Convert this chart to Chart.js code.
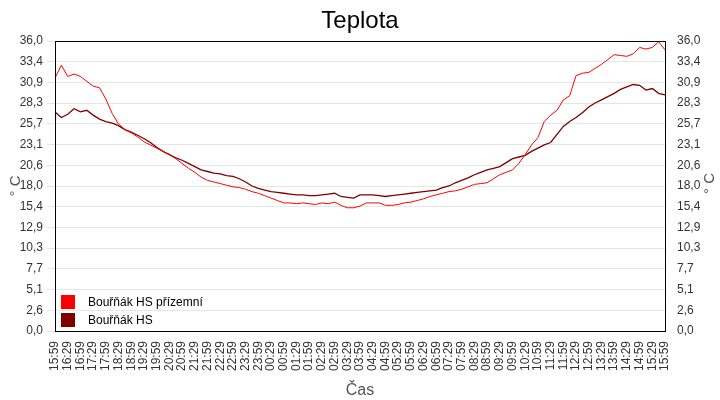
<!DOCTYPE html>
<html><head><meta charset="utf-8">
<script src="https://cdn.jsdelivr.net/npm/chart.js@4/dist/chart.umd.min.js"></script>
<style>
body{margin:0;background:#fff;font-family:"Liberation Sans",Arial,sans-serif}
#wrap{position:relative;width:720px;height:400px}
#title{position:absolute;left:0;width:720px;top:6px;text-align:center;font-size:24px;color:#000}
.leg{position:absolute;left:61px;font-size:12px;color:#000;line-height:14px}
.leg span{display:inline-block;width:14px;height:14px;vertical-align:top;margin-right:13px}
#rt{position:absolute;left:698px;top:175px;font-size:15px;color:#555;transform:rotate(-90deg);transform-origin:center}
</style></head><body>
<div id="wrap">
<canvas id="c" width="720" height="400"></canvas>
<div id="title">Teplota</div>
<div class="leg" style="top:295px"><span style="background:#ff0000"></span>Bouřňák HS přízemní</div>
<div class="leg" style="top:313px"><span style="background:#800000"></span>Bouřňák HS</div>
<div id="rt">° C</div>
</div>
<script>
const tickLabels=["15:59","16:29","16:59","17:29","17:59","18:29","18:59","19:29","19:59","20:29","20:59","21:29","21:59","22:29","22:59","23:29","23:59","00:29","00:59","01:29","01:59","02:29","02:59","03:29","03:59","04:29","04:59","05:29","05:59","06:29","06:59","07:29","07:59","08:29","08:59","09:29","09:59","10:29","10:59","11:29","11:59","12:29","12:59","13:29","13:59","14:29","14:59","15:29","15:59"];
const yTicks=[0,2.571,5.143,7.714,10.286,12.857,15.429,18,20.571,23.143,25.714,28.286,30.857,33.429,36];
const redName="Bouřňák HS přízemní";
const darkName="Bouřňák HS";
const redVals=[31.4,33.0,31.6,31.9,31.6,31.0,30.4,30.2,28.8,27.0,25.7,25.0,24.6,24.1,23.5,23.1,22.7,22.3,21.9,21.4,20.8,20.2,19.7,19.1,18.7,18.5,18.3,18.1,17.9,17.8,17.6,17.3,17.1,16.8,16.5,16.2,15.9,15.9,15.8,15.9,15.8,15.7,15.9,15.8,16.0,15.6,15.3,15.3,15.5,15.9,15.9,15.9,15.6,15.6,15.7,15.9,16.0,16.2,16.4,16.7,16.9,17.1,17.3,17.4,17.6,17.9,18.2,18.3,18.4,18.9,19.4,19.7,20.0,20.8,21.9,23.1,24.0,26.0,26.8,27.4,28.7,29.2,31.7,32.0,32.1,32.6,33.1,33.7,34.3,34.2,34.1,34.4,35.2,35.0,35.2,35.9,34.9];
const darkVals=[27.2,26.5,26.9,27.6,27.2,27.4,26.8,26.3,26.0,25.8,25.5,25.0,24.7,24.3,23.9,23.4,22.8,22.3,21.9,21.5,21.2,20.8,20.4,20.0,19.8,19.6,19.5,19.3,19.2,18.9,18.5,18.0,17.7,17.5,17.3,17.2,17.1,17.0,16.9,16.9,16.8,16.8,16.9,17.0,17.1,16.7,16.6,16.5,16.9,16.9,16.9,16.8,16.7,16.8,16.9,17.0,17.1,17.2,17.3,17.4,17.5,17.8,18.0,18.4,18.7,19.0,19.4,19.7,20.0,20.2,20.4,20.9,21.4,21.6,21.8,22.3,22.7,23.1,23.4,24.4,25.4,26.0,26.5,27.1,27.8,28.3,28.7,29.1,29.5,30.0,30.3,30.6,30.5,29.9,30.1,29.5,29.3];
const labels=redVals.map((v,i)=>i%2===0?tickLabels[i/2]:'');
const fmt=v=>v.toFixed(1).replace('.',',');
const tickFont={family:"Liberation Sans",size:12};
const border={id:'border',afterDraw(ch){const a=ch.chartArea,c=ch.ctx;c.save();c.strokeStyle='#000';c.lineWidth=1;c.strokeRect(Math.round(a.left)+0.5,Math.round(a.top)+0.5,Math.round(a.right-a.left),Math.round(a.bottom-a.top));c.restore();}};
const yCommon={min:0,max:36,afterBuildTicks(s){s.ticks=yTicks.map(v=>({value:v}));},
 ticks:{callback:v=>fmt(v),font:tickFont,color:'#333',padding:4},border:{display:false}};
new Chart(document.getElementById('c'),{type:'line',
data:{labels:labels,datasets:[
{label:redName,data:redVals,borderColor:'#ff0000',borderWidth:1,pointRadius:0,tension:0},
{label:darkName,data:darkVals,borderColor:'#800000',borderWidth:1.3,pointRadius:0,tension:0}]},
options:{responsive:false,animation:false,layout:{padding:{top:41}},
plugins:{legend:{display:false},tooltip:{enabled:false}},
scales:{
x:{offset:false,grid:{display:false},border:{display:false},
 ticks:{autoSkip:false,minRotation:90,maxRotation:90,font:tickFont,color:'#333',padding:2,callback:(v,i)=>labels[i]===''?null:labels[i]},
 title:{display:true,text:'Čas',font:{family:"Liberation Sans",size:16},color:'#555',padding:0},
 afterFit(s){s.height=69;}},
y:{position:'left',...yCommon,grid:{color:'#e6e6e6'},
 title:{display:true,text:'° C',font:{family:"Liberation Sans",size:15},color:'#555',padding:{top:7,bottom:0}},
 afterFit(s){s.width=55;}},
y2:{position:'right',...yCommon,grid:{display:false},afterFit(s){s.width=55;}}
}},plugins:[border]});
</script></body></html>
